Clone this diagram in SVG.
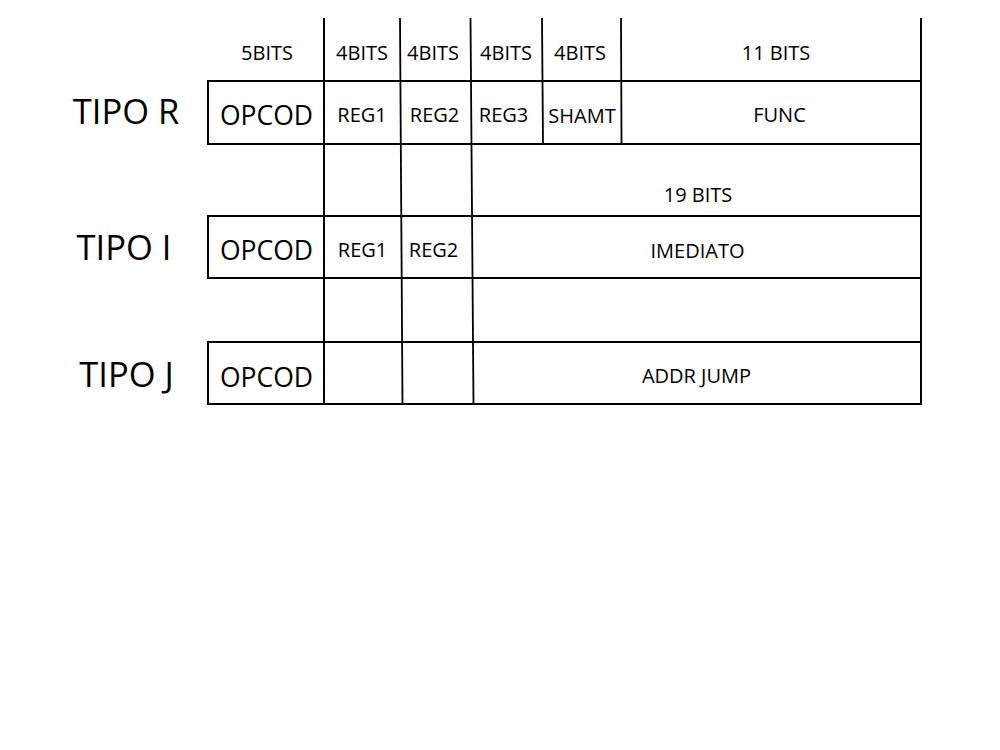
<svg xmlns="http://www.w3.org/2000/svg" width="1000" height="750" viewBox="0 0 1000 750">
<style>
  .ln { stroke: #000; stroke-width: 2; fill: none; stroke-linecap: butt; }
  .sl { stroke: #000; stroke-width: 1.8; fill: none; }
  text { font-family: "Open Sans", "Noto Sans", "Liberation Sans", sans-serif; fill: #000; text-anchor: middle; }
  .big { font-size: 34.5px; }
  .op { font-size: 26.5px; }
  .sm { font-size: 20px; }
</style>
<rect x="0" y="0" width="1000" height="750" fill="#fff"/>
<g id="grid">
  <line class="ln" x1="207" y1="81" x2="922" y2="81"/>
  <line class="ln" x1="207" y1="144" x2="922" y2="144"/>
  <line class="ln" x1="207" y1="216" x2="922" y2="216"/>
  <line class="ln" x1="207" y1="278" x2="922" y2="278"/>
  <line class="ln" x1="207" y1="342" x2="922" y2="342"/>
  <line class="ln" x1="207" y1="404" x2="922" y2="404"/>
  <line class="ln" x1="208" y1="81" x2="208" y2="144"/>
  <line class="ln" x1="208" y1="216" x2="208" y2="278"/>
  <line class="ln" x1="208" y1="342" x2="208" y2="404"/>
  <line class="ln" x1="921" y1="18" x2="921" y2="405"/>
  <line class="ln" x1="324" y1="18" x2="324" y2="404"/>
  <line class="sl" x1="400" y1="18" x2="402.5" y2="404"/>
  <line class="sl" x1="470.5" y1="18" x2="473.5" y2="404"/>
  <line class="sl" x1="542" y1="18" x2="543" y2="144"/>
  <line class="sl" x1="621" y1="18" x2="621.5" y2="144"/>
</g>
<g id="headers">
  <text class="sm" x="267" y="60">5BITS</text>
  <text class="sm" x="362" y="60">4BITS</text>
  <text class="sm" x="433" y="60">4BITS</text>
  <text class="sm" x="506" y="60">4BITS</text>
  <text class="sm" x="580" y="60">4BITS</text>
  <text class="sm" x="776" y="60">11 BITS</text>
  <text class="sm" x="698" y="202">19 BITS</text>
</g>
<g id="tipo-r">
  <text class="big" x="126" y="124">TIPO R</text>
  <text class="op" x="266.5" y="124.5">OPCOD</text>
  <text class="sm" x="362" y="122">REG1</text>
  <text class="sm" x="434.5" y="122">REG2</text>
  <text class="sm" x="503.5" y="122">REG3</text>
  <text class="sm" x="582" y="122.5">SHAMT</text>
  <text class="sm" x="779.5" y="122">FUNC</text>
</g>
<g id="tipo-i">
  <text class="big" x="124" y="260">TIPO I</text>
  <text class="op" x="266.5" y="259.5">OPCOD</text>
  <text class="sm" x="362.5" y="257">REG1</text>
  <text class="sm" x="433.5" y="257">REG2</text>
  <text class="sm" x="697.5" y="258">IMEDIATO</text>
</g>
<g id="tipo-j">
  <text class="big" x="126.5" y="387">TIPO J</text>
  <text class="op" x="266.5" y="386.5">OPCOD</text>
  <text class="sm" x="696.5" y="382.5">ADDR JUMP</text>
</g>
</svg>
